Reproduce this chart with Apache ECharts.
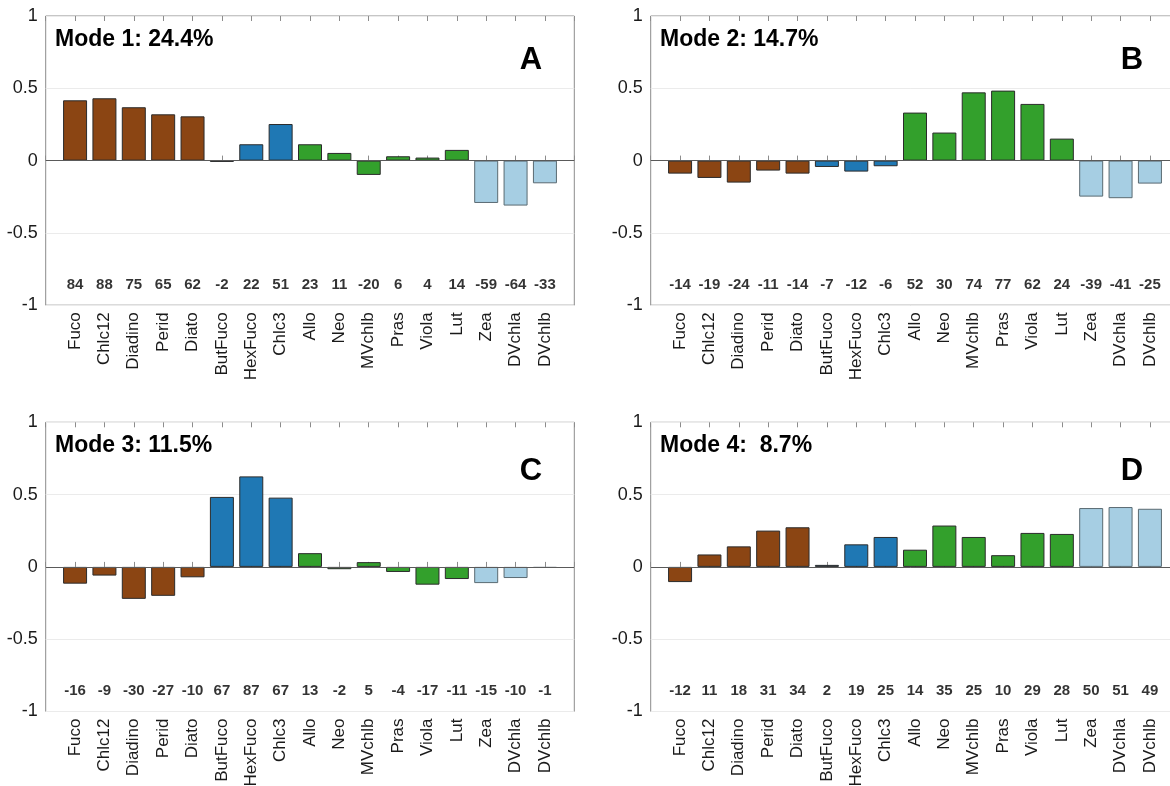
<!DOCTYPE html>
<html>
<head>
<meta charset="utf-8">
<script src="https://cdn.jsdelivr.net/npm/echarts@6/dist/echarts.min.js"></script>
<style>html,body{margin:0;padding:0;background:#fff;}#c{width:1170px;height:786px;overflow:hidden;}</style>
</head>
<body>
<div id="c"></div>
<script>
const categories = ['Fuco','Chlc12','Diadino','Perid','Diato','ButFuco','HexFuco','Chlc3','Allo','Neo','MVchlb','Pras','Viola','Lut','Zea','DVchla','DVchlb'];
const groups = ['brown','brown','brown','brown','brown','blue','blue','blue','green','green','green','green','green','green','light','light','light'];
const mode1 = [0.417,0.431,0.369,0.320,0.306,-0.009,0.113,0.253,0.113,0.053,-0.099,0.030,0.021,0.074,-0.293,-0.311,-0.157];
const mode2 = [-0.090,-0.120,-0.152,-0.069,-0.090,-0.044,-0.076,-0.039,0.332,0.194,0.472,0.484,0.392,0.152,-0.249,-0.260,-0.159];
const mode3 = [-0.116,-0.060,-0.221,-0.200,-0.072,0.484,0.626,0.479,0.095,-0.016,0.033,-0.035,-0.123,-0.084,-0.112,-0.077,-0.007];
const mode4 = [-0.105,0.086,0.142,0.251,0.274,0.014,0.156,0.207,0.119,0.286,0.207,0.081,0.235,0.228,0.407,0.414,0.402];
const labels1 = [84,88,75,65,62,-2,22,51,23,11,-20,6,4,14,-59,-64,-33];
const labels2 = [-14,-19,-24,-11,-14,-7,-12,-6,52,30,74,77,62,24,-39,-41,-25];
const labels3 = [-16,-9,-30,-27,-10,67,87,67,13,-2,5,-4,-17,-11,-15,-10,-1];
const labels4 = [-12,11,18,31,34,2,19,25,14,35,25,10,29,28,50,51,49];
const titles = ['Mode 1: 24.4%','Mode 2: 14.7%','Mode 3: 11.5%','Mode 4:  8.7%'];
const letters = ['A','B','C','D'];
const yTicks = [-1,-0.5,0,0.5,1];

const colorMap = {brown:'#8b4513', blue:'#1f78b4', green:'#33a02c', light:'#a6cee3'};
const borderMap = {brown:'#2b2b2b', blue:'#2b2b2b', green:'#2b2b2b', light:'#5a6a72'};
const FONT = 'Liberation Sans, Arial, Helvetica, sans-serif';

const panels = [
  {vals: mode1, labs: labels1, left: 45.7, top: 16},
  {vals: mode2, labs: labels2, left: 650.7, top: 16},
  {vals: mode3, labs: labels3, left: 45.7, top: 422.3},
  {vals: mode4, labs: labels4, left: 650.7, top: 422.3}
];
const W = 528.6, H = 289.2;
const N = categories.length;

const grid = [], xAxis = [], yAxis = [], series = [], graphic = [];
panels.forEach((p, i) => {
  grid.push({left: p.left, top: p.top, width: W, height: H, show: true, borderColor: '#8c8c8c', borderWidth: 1,
    backgroundColor: 'transparent', containLabel: false, outerBoundsMode: 'none'});
  xAxis.push({
    type: 'value', gridIndex: i, min: 0, max: N + 1, interval: 1, position: 'bottom',
    axisLine: {show: false},
    axisTick: {show: true, inside: true, length: 5, lineStyle: {color: '#8c8c8c'}},
    splitLine: {show: false},
    axisLabel: {rotate: 90, fontSize: 17, color: '#1a1a1a', fontFamily: FONT, margin: 7,
      formatter: v => (v >= 1 && v <= N) ? categories[v - 1] : ''}
  });
  xAxis.push({
    type: 'value', gridIndex: i, min: 0, max: N + 1, interval: 1, position: 'top',
    axisLine: {show: false},
    axisTick: {show: true, inside: true, length: 5, lineStyle: {color: '#8c8c8c'}},
    splitLine: {show: false}, axisLabel: {show: false}
  });
  yAxis.push({
    type: 'value', gridIndex: i, min: yTicks[0], max: yTicks[yTicks.length - 1], interval: 0.5,
    axisLine: {show: false}, axisTick: {show: false},
    splitLine: {show: true, lineStyle: {color: '#ebebeb', width: 1}},
    axisLabel: {fontSize: 18, color: '#1a1a1a', fontFamily: FONT, margin: 8}
  });
  series.push({
    type: 'bar', xAxisIndex: 2 * i, yAxisIndex: i, barWidth: 24,
    data: p.vals.map((v, k) => ({
      value: [k + 1, v],
      itemStyle: {color: colorMap[groups[k]], borderColor: borderMap[groups[k]], borderWidth: 1}
    })),
    markLine: {silent: true, symbol: 'none', label: {show: false},
      lineStyle: {color: '#5a5a5a', width: 1, type: 'solid'}, data: [{yAxis: 0}]},
    animation: false
  });
  series.push({
    type: 'scatter', xAxisIndex: 2 * i, yAxisIndex: i, symbolSize: 0, silent: true,
    data: p.labs.map((n, k) => [k + 1, -0.86, n]),
    label: {show: true, position: 'inside', formatter: d => String(d.value[2]),
      fontSize: 15, fontWeight: 'bold', color: '#000', fontFamily: FONT},
    animation: false
  });
});

const titlePos = [[55, 40], [660, 40], [55, 446], [660, 446]];
const letterPos = [[531, 60], [1132, 60], [531, 471], [1132, 471]];
titles.forEach((t, i) => {
  graphic.push({type: 'text', x: titlePos[i][0], y: titlePos[i][1],
    style: {text: t, fontSize: 23, fontWeight: 'bold', fill: '#000', fontFamily: FONT, textVerticalAlign: 'middle', textAlign: 'left'}});
  graphic.push({type: 'text', x: letterPos[i][0], y: letterPos[i][1],
    style: {text: letters[i], fontSize: 31, fontWeight: 'bold', fill: '#000', fontFamily: FONT, textVerticalAlign: 'middle', textAlign: 'center'}});
});

const chart = echarts.init(document.getElementById('c'), null, {renderer: 'canvas'});
chart.setOption({backgroundColor: '#fff', animation: false, grid, xAxis, yAxis, series, graphic});
</script>
</body>
</html>
